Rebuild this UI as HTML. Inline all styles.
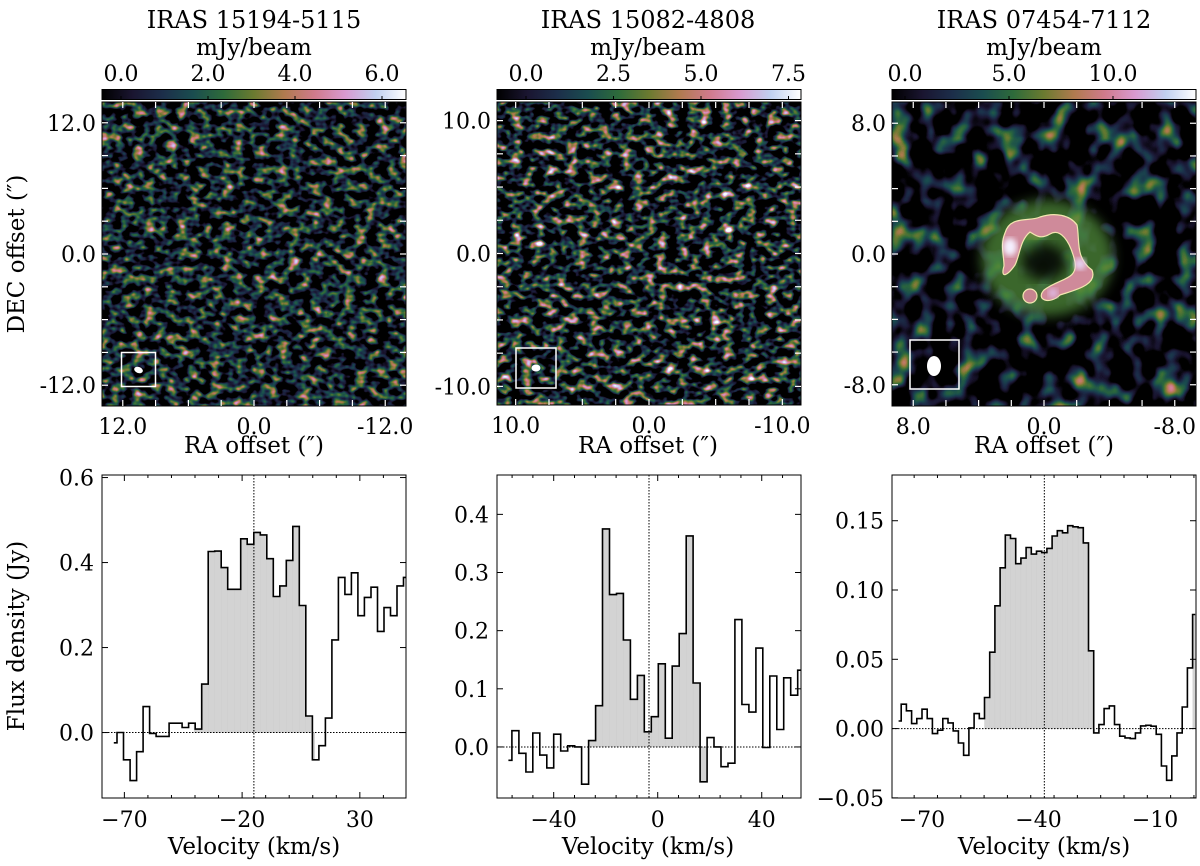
<!DOCTYPE html>
<html><head><meta charset="utf-8"><style>
html,body{margin:0;padding:0;background:#fff;}
svg text{font-family:"DejaVu Serif","Liberation Serif",serif;fill:#000;}
</style></head><body>
<svg id="fig" width="1200" height="861" viewBox="0 0 1200 861" xmlns="http://www.w3.org/2000/svg">
<defs>
  <linearGradient id="cmap" x1="0" x2="1" y1="0" y2="0">
    <stop offset="0" stop-color="#000000"/><stop offset="0.1" stop-color="#1a1530"/>
    <stop offset="0.2" stop-color="#1c2e4a"/><stop offset="0.3" stop-color="#1a4d4f"/>
    <stop offset="0.4" stop-color="#2e6b3a"/><stop offset="0.5" stop-color="#6b7a30"/>
    <stop offset="0.6" stop-color="#b07a4f"/><stop offset="0.7" stop-color="#d07a8c"/>
    <stop offset="0.8" stop-color="#d89ad0"/><stop offset="0.9" stop-color="#c0d0f0"/>
    <stop offset="1" stop-color="#ffffff"/>
  </linearGradient>
  <filter id="n1" x="0" y="0" width="100%" height="100%" color-interpolation-filters="sRGB">
    <feTurbulence type="fractalNoise" baseFrequency="0.09 0.12" numOctaves="2" seed="3"/>
    <feColorMatrix type="matrix" values="2.0 0 0 0 -0.85  2.0 0 0 0 -0.85  2.0 0 0 0 -0.85  0 0 0 0 1"/>
    <feComponentTransfer>
      <feFuncR type="table" tableValues="0 0.10 0.11 0.10 0.18 0.42 0.69 0.82 0.85 0.78 1"/>
      <feFuncG type="table" tableValues="0 0.08 0.18 0.30 0.42 0.48 0.48 0.48 0.60 0.82 1"/>
      <feFuncB type="table" tableValues="0 0.19 0.29 0.31 0.23 0.19 0.31 0.55 0.82 0.94 1"/>
    </feComponentTransfer>
  </filter>
  <filter id="n2" x="0" y="0" width="100%" height="100%" color-interpolation-filters="sRGB">
    <feTurbulence type="fractalNoise" baseFrequency="0.09 0.12" numOctaves="2" seed="11"/>
    <feColorMatrix type="matrix" values="2.4 0 0 0 -1.05  2.4 0 0 0 -1.05  2.4 0 0 0 -1.05  0 0 0 0 1"/>
    <feComponentTransfer>
      <feFuncR type="table" tableValues="0 0.10 0.11 0.10 0.18 0.42 0.69 0.82 0.85 0.78 1"/>
      <feFuncG type="table" tableValues="0 0.08 0.18 0.30 0.42 0.48 0.48 0.48 0.60 0.82 1"/>
      <feFuncB type="table" tableValues="0 0.19 0.29 0.31 0.23 0.19 0.31 0.55 0.82 0.94 1"/>
    </feComponentTransfer>
  </filter>
  <filter id="n3" x="0" y="0" width="100%" height="100%" color-interpolation-filters="sRGB">
    <feTurbulence type="fractalNoise" baseFrequency="0.045 0.04" numOctaves="2" seed="5"/>
    <feColorMatrix type="matrix" values="1.7 0 0 0 -0.8  1.7 0 0 0 -0.8  1.7 0 0 0 -0.8  0 0 0 0 1"/>
    <feComponentTransfer>
      <feFuncR type="table" tableValues="0 0.10 0.11 0.10 0.18 0.42 0.69 0.82 0.85 0.78 1"/>
      <feFuncG type="table" tableValues="0 0.08 0.18 0.30 0.42 0.48 0.48 0.48 0.60 0.82 1"/>
      <feFuncB type="table" tableValues="0 0.19 0.29 0.31 0.23 0.19 0.31 0.55 0.82 0.94 1"/>
    </feComponentTransfer>
  </filter>
  <filter id="blur6"><feGaussianBlur stdDeviation="6"/></filter>
  <filter id="blur3"><feGaussianBlur stdDeviation="3"/></filter>
  <clipPath id="c3"><rect x="892.5" y="102.5" width="303" height="303"/></clipPath>
</defs>

<text x="254" y="28" font-size="24" text-anchor="middle">IRAS 15194-5115</text>
<text x="648" y="28" font-size="24" text-anchor="middle">IRAS 15082-4808</text>
<text x="1044" y="28" font-size="24" text-anchor="middle">IRAS 07454-7112</text>

<rect x="102" y="102" width="304" height="304" filter="url(#n1)"/>
<rect x="497" y="102" width="304" height="303" filter="url(#n2)"/>
<rect x="892" y="102" width="304" height="304" filter="url(#n3)"/>
<g clip-path="url(#c3)">
  <ellipse cx="1047" cy="258" rx="66" ry="58" fill="#4f8a3a" opacity="0.75" filter="url(#blur6)"/>
  <ellipse cx="1044" cy="262" rx="22" ry="18" fill="#000" opacity="0.85" filter="url(#blur6)"/>
  <path d="M1005,233 C1010,215 1030,222 1040,217 C1055,212 1070,215 1077,225 C1080,240 1075,258 1092,270 C1098,285 1075,290 1060,295 C1050,305 1035,300 1044,290 C1060,278 1078,280 1075,262 C1070,240 1060,228 1050,234 C1040,240 1035,235 1030,232 C1020,240 1020,255 1015,265 C1008,275 1000,280 1004,266 C1004,255 1000,245 1005,233 Z" fill="#cf8a9a" stroke="#f3e6b0" stroke-width="1.2"/>
  <ellipse cx="1030" cy="296" rx="7" ry="7" fill="#c6848f" stroke="#f3e6b0" stroke-width="1.2"/>
  <ellipse cx="1010" cy="247" rx="7" ry="9" fill="#f5f0ff" filter="url(#blur3)"/>
  <ellipse cx="1080" cy="264" rx="6" ry="6" fill="#e6d2f0" filter="url(#blur3)"/>
  <ellipse cx="1053" cy="293" rx="5" ry="5" fill="#e0b8e0" filter="url(#blur3)"/>
</g>
<rect x="102" y="102" width="304" height="304" fill="none" stroke="#000" stroke-width="1"/>
<rect x="497" y="102" width="304" height="303" fill="none" stroke="#000" stroke-width="1"/>
<rect x="892" y="102" width="304" height="304" fill="none" stroke="#000" stroke-width="1"/>

<g><rect x="121.5" y="352.5" width="34" height="34" fill="none" stroke="#fff" stroke-width="1.5"/><ellipse cx="138.5" cy="370" rx="4.5" ry="3" transform="rotate(20 138.5 370)" fill="#fff"/></g>
<g><rect x="516" y="348" width="40" height="40" fill="none" stroke="#fff" stroke-width="1.5"/><ellipse cx="536" cy="368" rx="4.5" ry="3.5" fill="#fff"/></g>
<g><rect x="910" y="340" width="49" height="49" fill="none" stroke="#fff" stroke-width="1.5"/><ellipse cx="934" cy="366" rx="7" ry="10" fill="#fff"/></g>

<rect x="102" y="89.5" width="304" height="10" fill="url(#cmap)" stroke="#000"/>
<rect x="497" y="89.5" width="304" height="10" fill="url(#cmap)" stroke="#000"/>
<rect x="892" y="89.5" width="304" height="10" fill="url(#cmap)" stroke="#000"/>
<text x="254" y="55" font-size="23" text-anchor="middle">mJy/beam</text>
<text x="648" y="55" font-size="23" text-anchor="middle">mJy/beam</text>
<text x="1044" y="55" font-size="23" text-anchor="middle">mJy/beam</text>

<text transform="translate(24 254) rotate(-90)" font-size="23" text-anchor="middle">DEC offset (″)</text>
<text transform="translate(24 636) rotate(-90)" font-size="23" text-anchor="middle">Flux density (Jy)</text>
<text x="254" y="453" font-size="23" text-anchor="middle">RA offset (″)</text>
<text x="648" y="453" font-size="23" text-anchor="middle">RA offset (″)</text>
<text x="1044" y="453" font-size="23" text-anchor="middle">RA offset (″)</text>
<text x="254" y="854" font-size="23" text-anchor="middle">Velocity (km/s)</text>
<text x="648" y="854" font-size="23" text-anchor="middle">Velocity (km/s)</text>
<text x="1044" y="854" font-size="23" text-anchor="middle">Velocity (km/s)</text>
<g id="dyn"></g>
</svg>
<script>
const spec1Values = [-0.024,0.0,-0.064,-0.113,-0.045,0.061,-0.002,-0.009,-0.009,0.022,0.022,0.012,0.022,0.008,0.114,0.426,0.427,0.388,0.337,0.337,0.456,0.443,0.471,0.465,0.409,0.320,0.345,0.405,0.485,0.299,0.039,-0.064,-0.031,0.034,0.218,0.365,0.325,0.376,0.275,0.318,0.342,0.238,0.294,0.275,0.345,0.365,0.381];
const spec1Axis = {v0:-74.5, dv:2.765, fill:[-40.4,10.7], vline:-15.0};
const spec2Values = [-0.023,0.028,-0.011,-0.043,0.024,-0.014,-0.036,0.022,-0.007,0.002,0.0,-0.064,0.011,0.071,0.375,0.262,0.264,0.184,0.082,0.123,0.026,0.052,0.143,0.015,0.139,0.195,0.363,0.110,-0.060,0.016,0.0,-0.034,-0.028,0.219,0.073,0.060,0.170,-0.001,0.122,0.030,0.119,0.089,0.132];
const spec2Axis = {v0:-57.4, dv:2.68, fill:[-26.8,19.0], vline:-3.35};
const spec3Values = [0.0055,0.0176,0.0128,0.0036,0.0072,0.014,0.0072,-0.0036,-0.0012,0.0072,0.0041,-0.0017,-0.0104,-0.0193,0.0005,0.0108,0.0072,0.0224,0.0551,0.0886,0.116,0.1396,0.1372,0.119,0.123,0.1307,0.1259,0.128,0.127,0.130,0.139,0.1428,0.1413,0.1464,0.1456,0.145,0.134,0.0561,-0.0031,0.0029,0.0144,0.0164,0.0029,-0.0055,-0.0067,-0.0072,-0.0031,0.0019,0.0024,0.0017,-0.0041,-0.027,-0.0373,-0.0197,-0.0031,0.0156,0.0438,0.0823];
const spec3Axis = {v0:-76.0, dv:1.339, fill:[-53.9,-25.6], fill2:[-0.3,1.0], vline:-38.5};
const spec1XTicks = [-70,-20,30], spec1YTicks = [0.0,0.2,0.4,0.6];
const spec2XTicks = [-40,0,40], spec2YTicks = [0.0,0.1,0.2,0.3,0.4];
const spec3XTicks = [-70,-40,-10], spec3YTicks = [-0.05,0.00,0.05,0.10,0.15];
const map1Ticks = [12.0,0.0,-12.0], map2Ticks = [10.0,0.0,-10.0], map3Ticks = [8.0,0.0,-8.0];
const cbar1Ticks = [0.0,2.0,4.0,6.0], cbar2Ticks = [0.0,2.5,5.0,7.5], cbar3Ticks = [0.0,5.0,10.0];

const NS = 'http://www.w3.org/2000/svg';
const dyn = document.getElementById('dyn');
function mk(tag, attrs, parent){const e=document.createElementNS(NS,tag);for(const k in attrs)e.setAttribute(k,attrs[k]);(parent||dyn).appendChild(e);return e;}
function txt(x,y,s,anchor,size){const t=mk('text',{x:x,y:y,'font-size':size||22,'text-anchor':anchor||'middle'});t.textContent=s;return t;}

function spectrum(name, vals, ax, box, xr, yr, xt, yt, minorX, yfmt){
  const g = mk('g',{});
  
  
  const X = v => box.l + (v - xr[0])/(xr[1]-xr[0])*(box.r-box.l);
  const Y = f => box.b - (f - yr[0])/(yr[1]-yr[0])*(box.b-box.t);
  const clipId = name+'-clip';
  const cp = mk('clipPath',{id:clipId},g); mk('rect',{x:box.l,y:box.t,width:box.r-box.l,height:box.b-box.t},cp);
  const inner = mk('g',{'clip-path':'url(#'+clipId+')'},g);
  const fills=[ax.fill]; if(ax.fill2) fills.push(ax.fill2);
  fills.forEach(fr=>{
    vals.forEach((f,i)=>{
      const c=ax.v0+i*ax.dv; let a=Math.max(c-ax.dv/2,fr[0]), b=Math.min(c+ax.dv/2,fr[1]);
      if(b>a){ const r=mk('rect',{x:X(a),y:Math.min(Y(f),Y(0)),width:X(b)-X(a)+0.3,height:Math.abs(Y(f)-Y(0)),fill:'#d3d3d3',stroke:'#c8c8c8','stroke-width':0.3},inner);
        
         }
    });
  });
  mk('line',{x1:box.l,x2:box.r,y1:Y(0),y2:Y(0),stroke:'#000','stroke-width':1,'stroke-dasharray':'1.5,1.5'},inner);
  mk('line',{x1:X(ax.vline),x2:X(ax.vline),y1:box.t,y2:box.b,stroke:'#000','stroke-width':1,'stroke-dasharray':'1.5,1.5'},inner);
  let d='';
  vals.forEach((f,i)=>{
    const c=ax.v0+i*ax.dv;
    const a = i===0? c : c-ax.dv/2, b = i===vals.length-1? c : c+ax.dv/2;
    d += (i===0?'M':'L')+X(a).toFixed(1)+','+Y(f).toFixed(1)+' L'+X(b).toFixed(1)+','+Y(f).toFixed(1)+' ';
  });
  const p=mk('path',{d:d,fill:'none',stroke:'#000','stroke-width':1.6,'stroke-linejoin':'miter'},inner);
  
  
  mk('rect',{x:box.l,y:box.t,width:box.r-box.l,height:box.b-box.t,fill:'none',stroke:'#000','stroke-width':1},g);
  for(let v=Math.ceil(xr[0]/minorX)*minorX; v<=xr[1]; v+=minorX){
    const major = xt.some(t=>Math.abs(t-v)<1e-6);
    const L = major?6:3;
    mk('line',{x1:X(v),x2:X(v),y1:box.b,y2:box.b-L,stroke:'#000'},g);
    mk('line',{x1:X(v),x2:X(v),y1:box.t,y2:box.t+L,stroke:'#000'},g);
  }
  xt.forEach(v=>{const t=txt(X(v),box.b+29,String(v).replace('-','−'));});
  yt.forEach(v=>{
    mk('line',{x1:box.l,x2:box.l+6,y1:Y(v),y2:Y(v),stroke:'#000'},g);
    mk('line',{x1:box.r,x2:box.r-6,y1:Y(v),y2:Y(v),stroke:'#000'},g);
    const t=txt(box.l-8,Y(v)+8,v.toFixed(yfmt).replace('-','−'),'end');
    
    
  });
}
spectrum('spectrum-1',spec1Values,spec1Axis,{l:102,r:406,t:475,b:798},[-79.5,49.6],[-0.154,0.606],spec1XTicks,spec1YTicks,10,1);
spectrum('spectrum-2',spec2Values,spec2Axis,{l:497,r:801,t:475,b:798},[-61.8,55.1],[-0.0878,0.4677],spec2XTicks,spec2YTicks,8,1);
spectrum('spectrum-3',spec3Values,spec3Axis,{l:892,r:1196,t:475,b:798},[-77.7,0.53],[-0.0501,0.183],spec3XTicks,spec3YTicks,6,2);

function mapAxes(name, box, ticks, minor, ext){
  const X = v => box.l + (ext - v)/(2*ext)*(box.r-box.l);
  const Y = v => box.t + (ext - v)/(2*ext)*(box.b-box.t);
  for(let v=-Math.floor(ext/minor)*minor; v<=ext; v+=minor){
    mk('line',{x1:X(v),x2:X(v),y1:box.t,y2:box.t+6,stroke:'#fff','stroke-width':1.2});
    mk('line',{x1:X(v),x2:X(v),y1:box.b,y2:box.b-6,stroke:'#fff','stroke-width':1.2});
    mk('line',{x1:box.l,x2:box.l+6,y1:Y(v),y2:Y(v),stroke:'#fff','stroke-width':1.2});
    mk('line',{x1:box.r,x2:box.r-6,y1:Y(v),y2:Y(v),stroke:'#fff','stroke-width':1.2});
  }
  ticks.forEach(v=>{
    const s=v.toFixed(1);
    const a=txt(X(v),box.b+28,s);
    
    
    const b=txt(box.l-6,Y(v)+8,s,'end');
    
    
  });
}
mapAxes('map-1',{l:102,r:406,t:102,b:406},map1Ticks,3,13.9);
mapAxes('map-2',{l:497,r:801,t:102,b:405},map2Ticks,2.5,11.4);
mapAxes('map-3',{l:892,r:1196,t:102,b:406},map3Ticks,2,9.3);

function cbar(name, l, zeroX, step, ticks){
  ticks.forEach((v,i)=>{
    const x=zeroX+i*step;
    mk('line',{x1:x,x2:x,y1:99.5,y2:96,stroke:'#000'});
    const t=txt(x,81,v.toFixed(1));
    
    
  });
}
cbar('colorbar-1',102,121,87,cbar1Ticks);
cbar('colorbar-2',497,526,87.5,cbar2Ticks);
cbar('colorbar-3',892,905,104,cbar3Ticks);
</script>
</body></html>
